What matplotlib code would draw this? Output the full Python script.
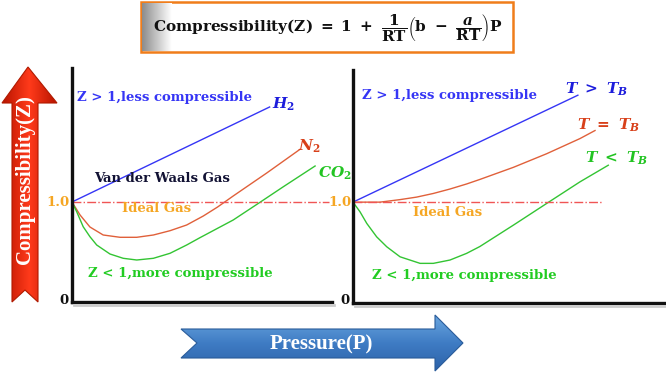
import numpy as np
import matplotlib
matplotlib.use("Agg")
import matplotlib.pyplot as plt
from matplotlib.patches import Polygon, Rectangle
from matplotlib.colors import LinearSegmentedColormap

plt.rcParams['mathtext.fontset'] = 'custom'
plt.rcParams['mathtext.rm'] = 'DejaVu Serif:bold'
plt.rcParams['mathtext.it'] = 'DejaVu Serif:italic:bold'
plt.rcParams['mathtext.bf'] = 'DejaVu Serif:bold'
plt.rcParams['font.family'] = ['DejaVu Serif']
plt.rcParams['font.weight'] = 'bold'

# ---------------- data ----------------
# Left panel: real gases
h2_p = [0.0, 7.6]
h2_z = [1.0, 1.95]
n2_p = [0.0, 0.31, 0.69, 1.20, 1.85, 2.49, 3.13, 3.77, 4.41, 5.05, 5.6, 6.20, 7.49, 8.77]
n2_z = [1.0, 0.87, 0.75, 0.67, 0.647, 0.647, 0.67, 0.713, 0.77, 0.86, 0.95, 1.06, 1.29, 1.527]
co2_p = [0.0, 0.18, 0.43, 0.69, 0.95, 1.46, 1.97, 2.49, 3.13, 3.77, 4.41, 4.92, 6.20, 7.23, 8.13, 9.35]
co2_z = [1.0, 0.903, 0.753, 0.653, 0.57, 0.48, 0.437, 0.42, 0.437, 0.487, 0.57, 0.643, 0.82, 0.997, 1.153, 1.36]
ideal_left_p = [0.0, 9.9]
ideal_left_z = [1.0, 1.0]

# Right panel: temperature vs Boyle temperature
tgt_p = [0.0, 8.65]
tgt_z = [1.0, 2.06]
teq_p = [0.0, 1.04, 1.81, 2.45, 3.09, 3.73, 4.37, 4.88, 6.17, 7.45, 8.73, 9.31]
teq_z = [1.0, 1.0, 1.025, 1.05, 1.086, 1.13, 1.18, 1.225, 1.345, 1.48, 1.63, 1.71]
tlt_p = [0.0, 0.27, 0.53, 0.91, 1.30, 1.81, 2.58, 3.09, 3.73, 4.37, 4.88, 6.17, 7.45, 8.73, 9.82]
tlt_z = [1.0, 0.904, 0.789, 0.656, 0.557, 0.458, 0.393, 0.393, 0.426, 0.492, 0.56, 0.772, 0.987, 1.201, 1.366]
ideal_right_p = [0.0, 9.6]
ideal_right_z = [1.0, 1.0]

W, H = 666, 385
fig = plt.figure(figsize=(W / 100, H / 100), dpi=100)

def frac_rect(x0, y0, x1, y1):
    return [x0 / W, 1 - y1 / H, (x1 - x0) / W, (y1 - y0) / H]

BLUE = '#3535f5'
RED = '#e0603a'
GREEN = '#33c433'
ORANGE = '#f5a623'
DASH = '#f05555'

def panel(rect, xmax, ymax):
    ax = fig.add_axes(rect)
    ax.set_xlim(0, xmax)
    ax.set_ylim(0, ymax)
    ax.patch.set_alpha(0)
    for s in ['top', 'right']:
        ax.spines[s].set_visible(False)
    for s in ['left', 'bottom']:
        ax.spines[s].set_linewidth(2.4)
        ax.spines[s].set_color('#111111')
    ax.set_xticks([])
    ax.set_yticks([])
    return ax

axL = panel(frac_rect(72, 68, 332, 302), 10.0, 2.34)
axL.plot(h2_p, h2_z, color=BLUE, lw=1.0)
axL.plot(n2_p, n2_z, color=RED, lw=1.0)
axL.plot(co2_p, co2_z, color=GREEN, lw=1.0)
axL.plot(ideal_left_p, ideal_left_z, color=DASH, lw=1.0, ls='-.')

axR = panel(frac_rect(353, 70, 666, 303), 12.04, 2.31)
axR.plot(tgt_p, tgt_z, color=BLUE, lw=1.0)
axR.plot(teq_p, teq_z, color=RED, lw=1.0)
axR.plot(tlt_p, tlt_z, color=GREEN, lw=1.0)
axR.plot(ideal_right_p, ideal_right_z, color=DASH, lw=1.0, ls='-.')

# ---------------- overlay in pixel coordinates ----------------
ov = fig.add_axes([0, 0, 1, 1])
ov.axis('off')
ov.patch.set_alpha(0)

# axis shadows
for (x0, x1, y) in [(74, 334, 305), (355, 666, 306)]:
    ov.plot([x0, x1], [y, y], color='#cccccc', lw=2, zorder=0)

# title box with gradient on the left
ov.add_patch(Rectangle((141, 2), 372, 50, facecolor='white', edgecolor='#f07d1a', lw=1.8, zorder=2))
grad = np.linspace(0.55, 1.0, 50).reshape(1, -1)
ov.imshow(grad, extent=(142, 172, 51, 3), cmap='gray', vmin=0, vmax=1, aspect='auto', zorder=3)
ov.text(328, 27, r'$\mathrm{Compressibility(Z)}\;=\;\mathrm{1}\ +\ \dfrac{\mathrm{1}}{\mathrm{RT}}\left(\mathrm{b}\ -\ \dfrac{a}{\mathrm{RT}}\right)\mathrm{P}$',
        fontsize=11, ha='center', va='center', color='#111111', zorder=4)

# red vertical arrow with gradient
red_poly = [(28, 67), (57, 103), (38, 103), (38, 302), (25, 290), (12, 302), (12, 103), (2, 103)]
rp = Polygon(red_poly, closed=True, facecolor='none', edgecolor='#b01a00', lw=0.8, zorder=3)
ov.add_patch(rp)
rcm = LinearSegmentedColormap.from_list('r', ['#b81400', '#ff3a1a', '#b81400'])
g = np.linspace(0, 1, 100).reshape(1, -1)
im = ov.imshow(g, extent=(2, 57, 302, 67), cmap=rcm, aspect='auto', zorder=2)
im.set_clip_path(rp)
ov.text(25, 180, 'Compressibility(Z)', rotation=90, color='white', fontsize=15,
        family='Liberation Serif', ha='center', va='center', zorder=4)

# blue horizontal arrow with gradient
blue_poly = [(181, 329), (435, 329), (435, 315), (463, 343), (435, 371), (435, 358), (181, 358), (197, 343)]
bp = Polygon(blue_poly, closed=True, facecolor='none', edgecolor='#2a5c9a', lw=0.8, zorder=3)
ov.add_patch(bp)
bcm = LinearSegmentedColormap.from_list('b', ['#6aa6e0', '#3f7cc4', '#2c62a8'])
gb = np.linspace(0, 1, 100).reshape(-1, 1)
imb = ov.imshow(gb, extent=(181, 463, 371, 315), cmap=bcm, aspect='auto', zorder=2)
imb.set_clip_path(bp)
ov.text(321, 344, 'Pressure(P)', color='white', fontsize=15, family='Liberation Serif',
        ha='center', va='center', zorder=4)
ov.set_xlim(0, W)
ov.set_ylim(H, 0)

fs = 9.5
ms = 11
# left panel texts
ov.text(77, 97, 'Z > 1,less compressible', color=BLUE, fontsize=fs, ha='left', va='center')
ov.text(272, 104, r'$H_2$', color='#1c1cdc', fontsize=ms, ha='left', va='center')
ov.text(298, 146, r'$N_2$', color='#d8401a', fontsize=ms, ha='left', va='center')
ov.text(318, 173, r'$CO_2$', color='#22c422', fontsize=ms, ha='left', va='center')
ov.text(94, 179, 'Van der Waals Gas', color='#111133', fontsize=fs, ha='left', va='center')
ov.text(122, 209, 'Ideal Gas', color=ORANGE, fontsize=fs, ha='left', va='center')
ov.text(88, 273, 'Z < 1,more compressible', color='#22cc22', fontsize=fs, ha='left', va='center')
ov.text(69, 202, '1.0', color=ORANGE, fontsize=fs, ha='right', va='center')
ov.text(64, 300, '0', color='#111111', fontsize=fs, ha='center', va='center')

# right panel texts
ov.text(362, 96, 'Z > 1,less compressible', color=BLUE, fontsize=fs, ha='left', va='center')
ov.text(565, 89, r'$T\ >\ T_B$', color='#1c1cdc', fontsize=ms, ha='left', va='center')
ov.text(577, 125, r'$T\ =\ T_B$', color='#d8401a', fontsize=ms, ha='left', va='center')
ov.text(585, 158, r'$T\ <\ T_B$', color='#22c422', fontsize=ms, ha='left', va='center')
ov.text(413, 212, 'Ideal Gas', color=ORANGE, fontsize=fs, ha='left', va='center')
ov.text(372, 275, 'Z < 1,more compressible', color='#22cc22', fontsize=fs, ha='left', va='center')
ov.text(351, 202, '1.0', color=ORANGE, fontsize=fs, ha='right', va='center')
ov.text(345, 300, '0', color='#111111', fontsize=fs, ha='center', va='center')

fig.savefig('out.png', dpi=100)
